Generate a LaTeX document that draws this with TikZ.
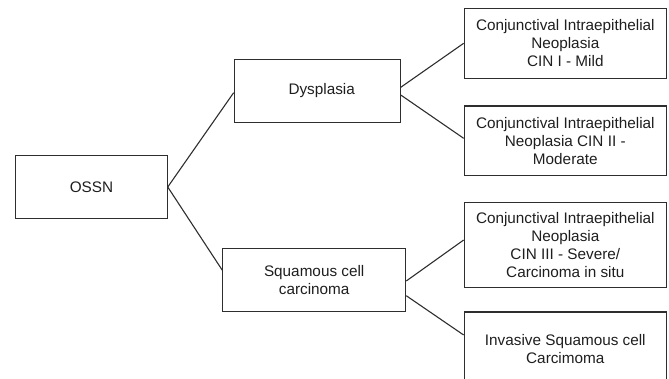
\documentclass[tikz,border=0pt]{standalone}
\usepackage{fontspec}
\setmainfont{Liberation Sans}
\definecolor{edge}{HTML}{2E2E2E}
\definecolor{ink}{HTML}{1E1E1E}
\begin{document}
\begin{tikzpicture}[x=1pt,y=-1pt,
  box/.style={draw=edge,line width=1.1pt,rectangle,inner sep=0pt,align=center,text=ink,
    font=\fontsize{15.3}{18}\selectfont},
  link/.style={draw=edge,line width=1.1pt}]
\useasboundingbox (0,0) rectangle (669,378);
\node[box,minimum width=151.4pt,minimum height=62.6pt] (ossn) at (91.5,187) {OSSN};
\node[box,minimum width=166pt,minimum height=62.6pt] (dys) at (317.2,91) {\hspace*{9pt}Dysplasia};
\node[box,minimum width=183pt,minimum height=63.4pt] (scc) at (314.2,280) {Squamous cell\\carcinoma};
\node[box,minimum width=202.2pt,minimum height=70pt] (c1) at (565.3,43.3) {Conjunctival Intraepithelial\\Neoplasia\\CIN I - Mild};
\node[box,minimum width=202.2pt,minimum height=69.7pt] (c2) at (565.3,140.8) {Conjunctival Intraepithelial\\Neoplasia CIN II -\\Moderate};
\node[box,minimum width=202.2pt,minimum height=84.6pt] (c3) at (565.3,245) {Conjunctival Intraepithelial\\Neoplasia\\CIN III - Severe/\\Carcinoma in situ};
\node[box,minimum width=202.2pt,minimum height=74pt] (c4) at (565.3,349) {Invasive Squamous cell\\Carcimoma};
\draw[link] (ossn.east) -- ([yshift=-1.7pt]dys.west);
\draw[link] (ossn.east) -- ([yshift=10pt]scc.west);
\draw[link] ([yshift=3.7pt]dys.east) -- (c1.west);
\draw[link] ([yshift=-4pt]dys.east) -- ([yshift=2.5pt]c2.west);
\draw[link] ([yshift=-1pt]scc.east) -- ([yshift=5pt]c3.west);
\draw[link] ([yshift=-15.7pt]scc.east) -- ([yshift=14pt]c4.west);
\end{tikzpicture}
\end{document}
